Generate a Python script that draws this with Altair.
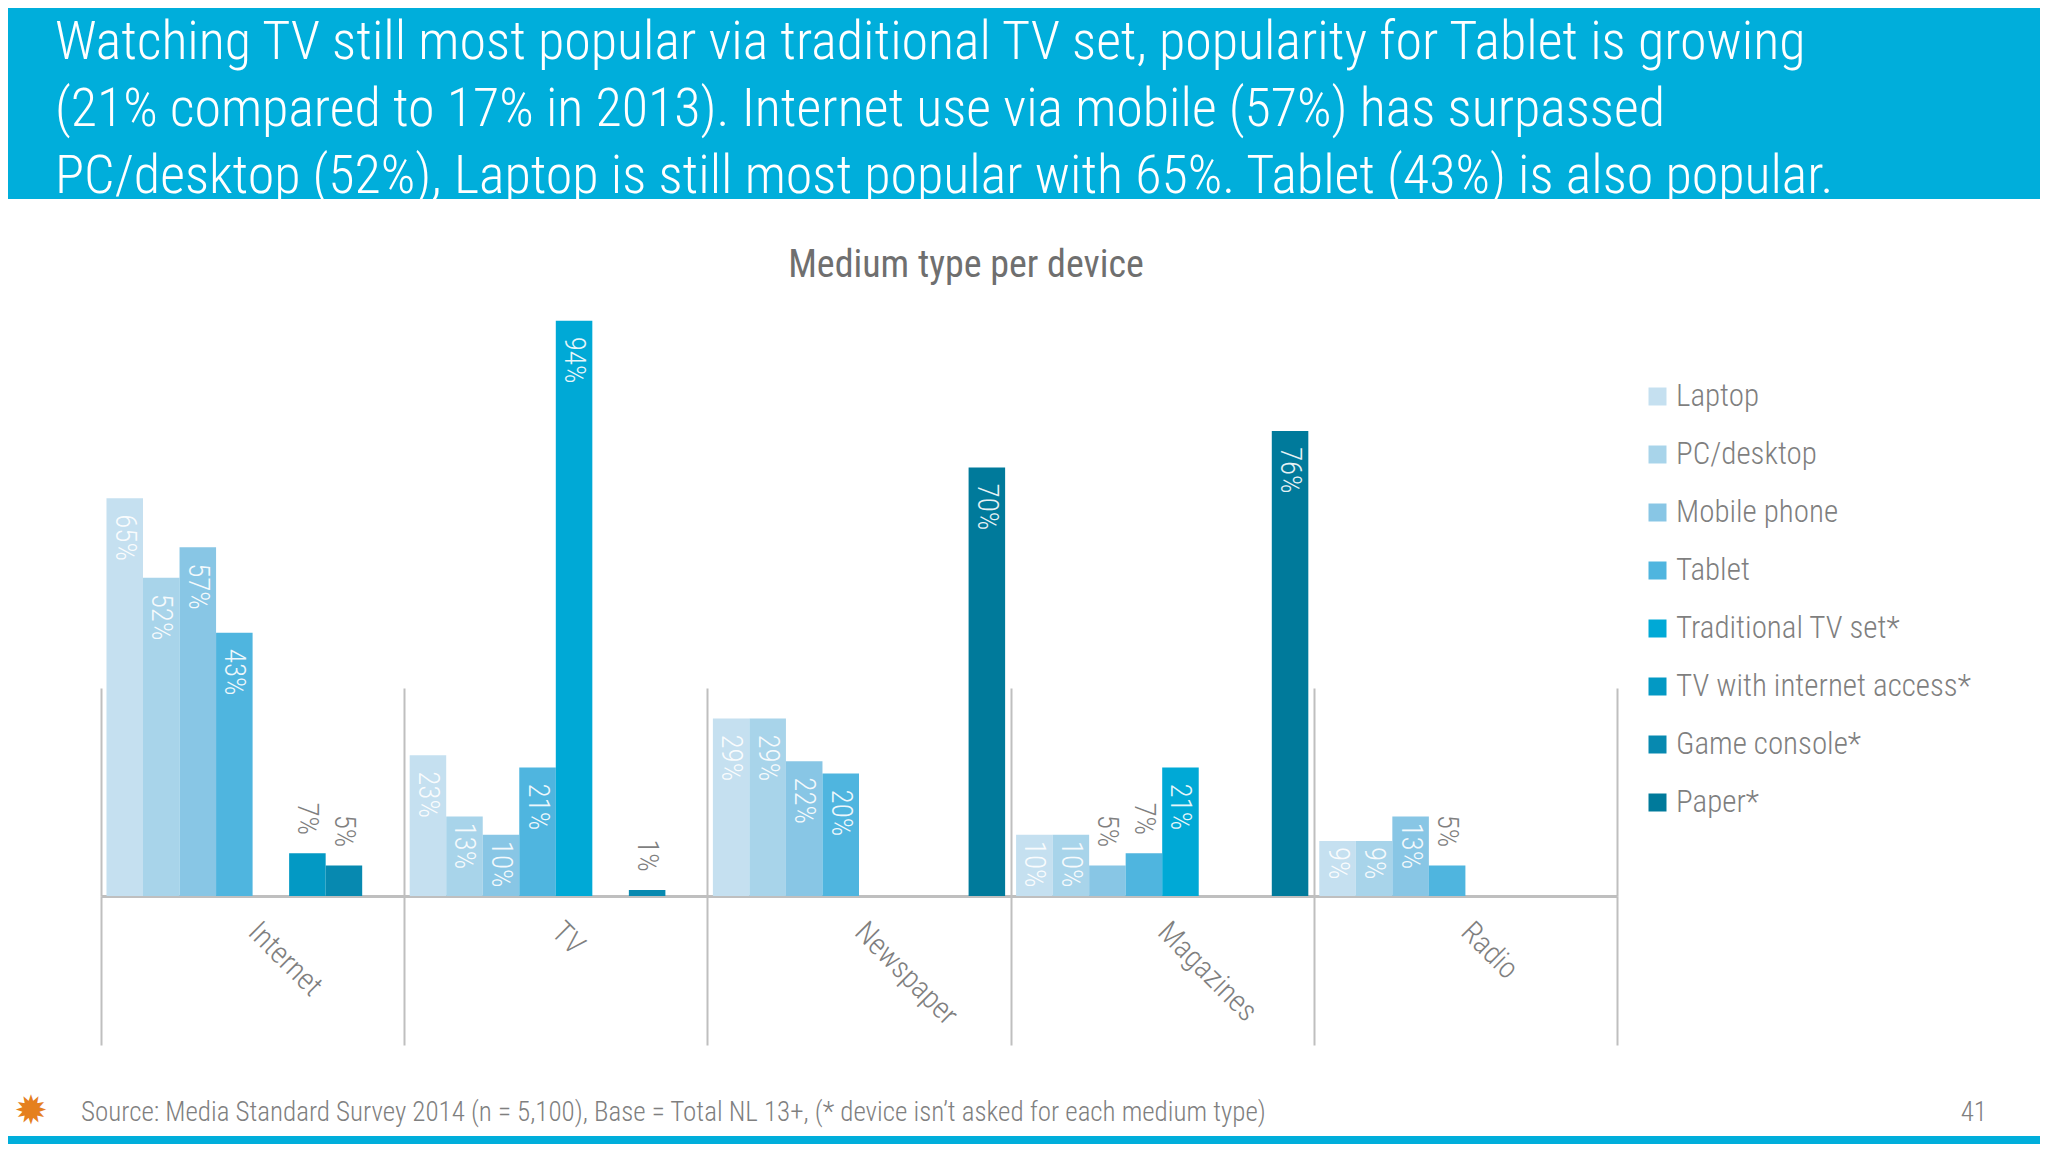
import altair as alt
import pandas as pd

FONT = "Roboto Condensed, Liberation Sans Narrow, Arial Narrow, sans-serif"

mediums = ["Internet", "TV", "Newspaper", "Magazines", "Radio"]
devices = ["Laptop", "PC/desktop", "Mobile phone", "Tablet",
           "Traditional TV set*", "TV with internet access*", "Game console*", "Paper*"]
colors = ["#c5e0f0", "#a8d4ea", "#88c6e5", "#4fb5df",
          "#00a9d6", "#0399c4", "#0789b0", "#007a9b"]

laptop = [65, 23, 29, 10, 9]
pc_desktop = [52, 13, 29, 10, 9]
mobile_phone = [57, 10, 22, 5, 13]
tablet = [43, 21, 20, 7, 5]
traditional_tv = [None, 94, None, 21, None]
tv_internet = [7, None, None, None, None]
game_console = [5, 1, None, None, None]
paper = [None, None, 70, 76, None]

header_lines = [
    "Watching TV still most popular via traditional TV set, popularity for Tablet is growing",
    "(21% compared to 17% in 2013). Internet use via mobile (57%) has surpassed",
    "PC/desktop (52%), Laptop is still most popular with 65%. Tablet (43%) is also popular.",
]
title_text = "Medium type per device"
source_text = ("Source: Media Standard Survey 2014 (n =  5,100), Base = Total NL 13+, "
               "(* device isn\u2019t asked for each medium type)")
page_number = "41"

series = [laptop, pc_desktop, mobile_phone, tablet, traditional_tv, tv_internet, game_console, paper]
rows = []
for dev, vals in zip(devices, series):
    for med, v in zip(mediums, vals):
        if v is not None:
            rows.append({"medium": med, "device": dev, "value": v, "label": f"{v}%"})
df = pd.DataFrame(rows)

W, H = 1516, 612
GRAY = "#7f7f7f"
LINE = "#bfbfbf"

x_axis = alt.X(
    "medium:N", sort=mediums,
    scale=alt.Scale(domain=mediums, paddingInner=0, paddingOuter=0),
    axis=alt.Axis(title=None, labelAngle=45, labelAlign="left", labelBaseline="middle",
                  labelPadding=-118, ticks=True, tickBand="extent", tickSize=149,
                  tickColor=LINE, tickWidth=2,
                  grid=True, gridColor=LINE, gridWidth=2, gridDash=[0, 404, 208, 2000],
                  domainColor=LINE, domainWidth=3,
                  labelFont=FONT, labelFontSize=30, labelFontWeight=300, labelColor=GRAY),
)
x_off = alt.XOffset("device:N", sort=devices,
                    scale=alt.Scale(domain=devices, paddingInner=0, paddingOuter=0.15))
y_val = alt.Y("value:Q", scale=alt.Scale(domain=[0, 100]), axis=None)

base = alt.Chart(df)

bars = base.mark_bar().encode(
    x=x_axis, xOffset=x_off, y=y_val,
    color=alt.Color("device:N", sort=devices,
                    scale=alt.Scale(domain=devices, range=colors),
                    legend=alt.Legend(title=None, orient="none", legendX=1541, legendY=97,
                                      direction="vertical", symbolType="square",
                                      symbolSize=324, symbolStrokeWidth=0,
                                      labelFont=FONT, labelFontSize=31, labelFontWeight=300,
                                      labelColor=GRAY, labelLimit=500,
                                      rowPadding=26, labelOffset=3)),
)

LBL = dict(angle=90, baseline="middle", font=FONT, fontSize=29, fontWeight=300)

top_labels = base.mark_text(align="left", dx=16, color="#ffffff", opacity=0.9, **LBL).encode(
    x=x_axis, xOffset=x_off, y=y_val,
    text=alt.condition("datum.value >= 20", "label:N", alt.value("")))

mid_labels = base.mark_text(align="left", dx=6, color="#ffffff", opacity=0.9, **LBL).encode(
    x=x_axis, xOffset=x_off, y=y_val,
    text=alt.condition("datum.value >= 9 && datum.value < 20", "label:N", alt.value("")))

out_labels = base.mark_text(align="right", dx=-18, color=GRAY, **LBL).encode(
    x=x_axis, xOffset=x_off, y=y_val,
    text=alt.condition("datum.value < 9", "label:N", alt.value("")))

one = pd.DataFrame({"k": [0]})
header_band = alt.Chart(one).mark_rect(color="#00aedb").encode(
    x=alt.value(-93), x2=alt.value(1939), y=alt.value(-276), y2=alt.value(-85))

header_layers = []
for i, line in enumerate(header_lines):
    header_layers.append(alt.Chart(one).mark_text(
        text=line, align="left", baseline="alphabetic",
        font=FONT, fontSize=54, fontWeight=300, color="#ffffff",
    ).encode(x=alt.value(-46), y=alt.value(-225 + 67 * i)))

title = alt.Chart(one).mark_text(
    text=title_text, align="center", baseline="middle", font=FONT, fontSize=38,
    color="#6f6f6f",
).encode(x=alt.value(865), y=alt.value(-18))
source = alt.Chart(one).mark_text(
    text=source_text, align="left", baseline="middle", font=FONT, fontSize=27,
    fontWeight=300, color=GRAY,
).encode(x=alt.value(-20), y=alt.value(829))
page = alt.Chart(one).mark_text(
    text=page_number, align="right", baseline="middle", font=FONT, fontSize=27,
    fontWeight=300, color=GRAY,
).encode(x=alt.value(1886), y=alt.value(829))
logo = alt.Chart(one).mark_text(
    text="\u2739", align="center", baseline="middle", font="DejaVu Sans", fontSize=40,
    color="#e5801e",
).encode(x=alt.value(-70), y=alt.value(828))
bottom_band = alt.Chart(one).mark_rect(color="#00aedb").encode(
    x=alt.value(-93), x2=alt.value(1939), y=alt.value(852), y2=alt.value(870))

chart = alt.layer(
    bars, top_labels, mid_labels, out_labels,
    header_band, *header_layers, title,
    source, page, logo, bottom_band,
).properties(
    width=W, height=H,
    autosize=alt.AutoSizeParams(type="none"),
    padding={"left": 93, "top": 276, "right": 423, "bottom": 248},
    background="#ffffff",
).configure_view(stroke=None)

chart.save("out.html", embed_options={"renderer": "svg", "actions": False})
